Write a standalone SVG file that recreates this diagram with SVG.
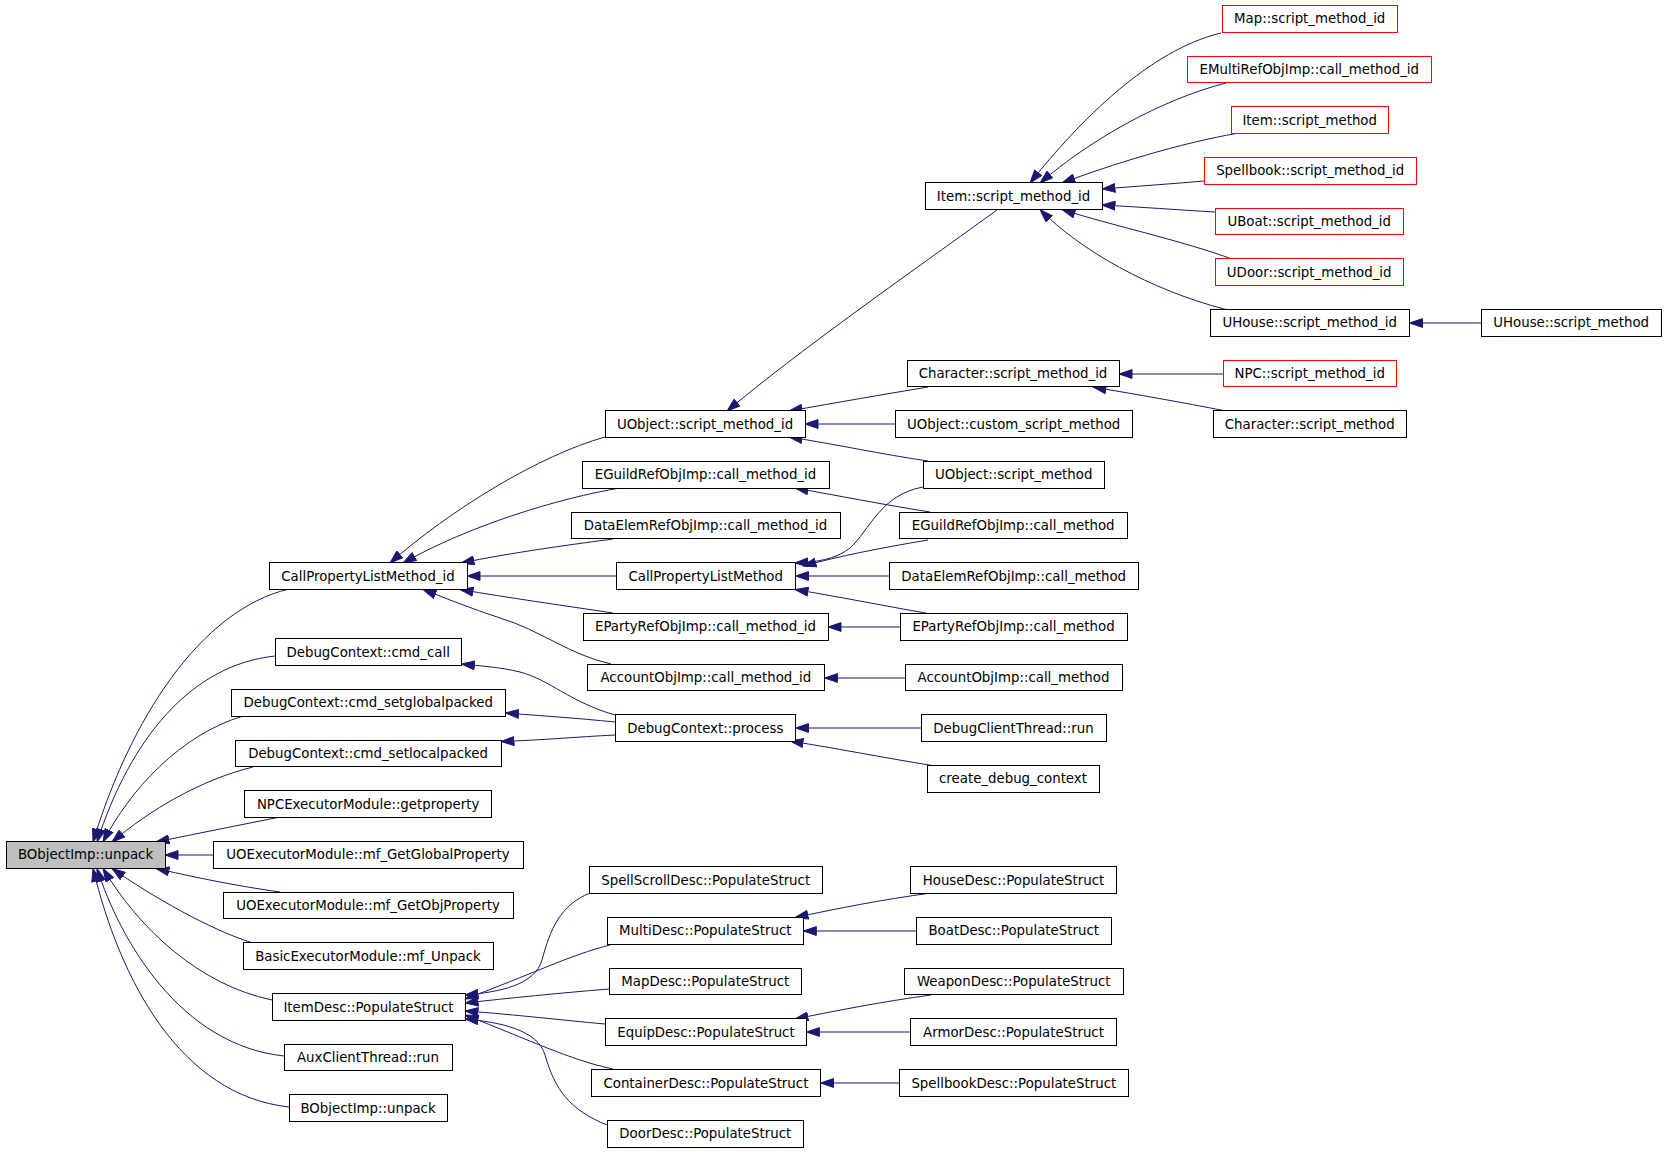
<svg xmlns="http://www.w3.org/2000/svg" width="1667" height="1152" viewBox="0 0 1667 1152">
<style>
.n rect{fill:#fff;stroke:#000;stroke-width:1;shape-rendering:crispEdges}
.r rect{stroke:#f00}
.g rect{fill:#bfbfbf}
text{font-family:"DejaVu Sans","Liberation Sans",sans-serif;font-size:13.33px;text-anchor:middle;fill:#000}
.e path{fill:none;stroke:#191970;stroke-width:1;marker-end:url(#a)}
</style>
<defs>
<marker id="a" markerUnits="userSpaceOnUse" markerWidth="14" markerHeight="10" viewBox="0 0 14 10" refX="13.5" refY="5" orient="auto">
<path d="M0.5,0.6 L13.5,5 L0.5,9.4 Z" fill="#191970" stroke="#191970" stroke-width="1"/>
</marker>
</defs>
<rect width="1667" height="1152" fill="#fff"/>
<g class="e" id="edges">
<path d="M289,589 C200,610 130,720 93,842"/>
<path d="M275,656 C190,665 130,740 97,842"/>
<path d="M243,716 C180,735 130,790 103,842"/>
<path d="M253,767 C200,780 150,810 112,842"/>
<path d="M280,817 C240,825 200,833 156,842"/>
<path d="M213,855 L165,855"/>
<path d="M280,892 C230,885 190,876 156,868.5"/>
<path d="M253,943 C210,930 150,895 112,868.5"/>
<path d="M272,1000 C200,985 140,930 103,868.5"/>
<path d="M284,1056 C180,1045 120,940 97,868.5"/>
<path d="M289,1107 C180,1095 120,980 93,868.5"/>
<path d="M605,437 C540,455 450,510 390,563"/>
<path d="M620,488 C560,498 470,525 403,563"/>
<path d="M613,539 C560,546 510,553 461,563"/>
<path d="M616,576 L467,576"/>
<path d="M613,613 C560,605 510,598 460,589.5"/>
<path d="M611,664 C570,655 540,630 500,618 C470,608 445,598 423,589.5"/>
<path d="M615,715 C570,702 550,680 520,672 C500,667 480,666 461.5,664"/>
<path d="M615,722 C575,718 545,716 505.5,713"/>
<path d="M615,735 C575,737 545,740 501,741.5"/>
<path d="M921,728 L795.5,728"/>
<path d="M932,765.5 C880,757 840,749 790,741"/>
<path d="M997,210 C900,280 800,350 727,411"/>
<path d="M928,387 C880,395 840,402 789,411"/>
<path d="M895,424 L805,424"/>
<path d="M928,461 C880,454 840,445 789,437"/>
<path d="M930,512 C880,504 840,496 795,488"/>
<path d="M923,487 C880,495 870,530 850,548 C835,560 815,562 795,563"/>
<path d="M928,540 C880,548 840,556 803,566"/>
<path d="M889,576 L795.5,576"/>
<path d="M928,613.5 C880,605 840,597 795,589.5"/>
<path d="M900,627 L828,627"/>
<path d="M905,678 L824.6,678"/>
<path d="M1221,33 C1150,50 1080,120 1030,183"/>
<path d="M1226,83 C1160,100 1090,140 1040,183"/>
<path d="M1239,133 C1180,143 1110,165 1062,183"/>
<path d="M1204,181 C1170,184 1140,186 1102,189"/>
<path d="M1215,212 C1180,210 1140,207 1102,205"/>
<path d="M1232,259 C1180,240 1110,225 1062,209.5"/>
<path d="M1226,309.5 C1150,290 1080,250 1040,209.5"/>
<path d="M1481,323 L1409.5,323"/>
<path d="M1223,374 L1119,374"/>
<path d="M1226,411 C1180,402 1140,395 1093,387"/>
<path d="M590,893 C560,905 550,930 542,960 C535,985 500,992 465,995"/>
<path d="M610,945 C570,955 530,975 465,999"/>
<path d="M609,989 C560,993 510,998 465,1003"/>
<path d="M605,1024 C560,1020 520,1015 465,1011"/>
<path d="M613,1069 C570,1060 530,1040 465,1015"/>
<path d="M607,1125 C570,1110 555,1090 545,1055 C538,1030 500,1022 465,1019"/>
<path d="M931,893 C880,900 840,908 795,917.5"/>
<path d="M916,931 L803.3,931"/>
<path d="M931,995 C880,1002 840,1010 795,1019"/>
<path d="M911,1032 L806.4,1032"/>
<path d="M899,1083 L820.5,1083"/>
</g>
<g class="n g" id="n_root"><rect x="6" y="841.5" width="159" height="26.7"/><text x="85.5" y="859.4">BObjectImp::unpack</text></g>
<g class="n" id="n_cplm_id"><rect x="269" y="562.8" width="198" height="26.7"/><text x="368" y="580.7">CallPropertyListMethod_id</text></g>
<g class="n" id="n_cmd_call"><rect x="275" y="638.8" width="186.5" height="26.7"/><text x="368.2" y="656.7">DebugContext::cmd_call</text></g>
<g class="n" id="n_setglobal"><rect x="231" y="689.5" width="274.5" height="26.7"/><text x="368.2" y="707.4">DebugContext::cmd_setglobalpacked</text></g>
<g class="n" id="n_setlocal"><rect x="235" y="740.2" width="266" height="26.7"/><text x="368" y="758.1">DebugContext::cmd_setlocalpacked</text></g>
<g class="n" id="n_npcexec"><rect x="244.5" y="790.8" width="247.2" height="26.7"/><text x="368.1" y="808.7">NPCExecutorModule::getproperty</text></g>
<g class="n" id="n_uoglobal"><rect x="213" y="841.5" width="310" height="26.7"/><text x="368" y="859.4">UOExecutorModule::mf_GetGlobalProperty</text></g>
<g class="n" id="n_uoobj"><rect x="223" y="892.2" width="290" height="26.7"/><text x="368" y="910.1">UOExecutorModule::mf_GetObjProperty</text></g>
<g class="n" id="n_basic"><rect x="243" y="942.9" width="250" height="26.7"/><text x="368" y="960.8">BasicExecutorModule::mf_Unpack</text></g>
<g class="n" id="n_itemdesc"><rect x="272" y="993.6" width="193" height="26.7"/><text x="368.5" y="1011.5">ItemDesc::PopulateStruct</text></g>
<g class="n" id="n_aux"><rect x="284" y="1044.2" width="168" height="26.7"/><text x="368" y="1062.1">AuxClientThread::run</text></g>
<g class="n" id="n_bobj2"><rect x="289" y="1094.9" width="158" height="26.7"/><text x="368" y="1112.8">BObjectImp::unpack</text></g>
<g class="n" id="n_uobj_id"><rect x="605" y="410.7" width="200" height="26.7"/><text x="705" y="428.6">UObject::script_method_id</text></g>
<g class="n" id="n_eguild_id"><rect x="582" y="461.4" width="247" height="26.7"/><text x="705.5" y="479.3">EGuildRefObjImp::call_method_id</text></g>
<g class="n" id="n_dataelem_id"><rect x="571" y="512.1" width="269" height="26.7"/><text x="705.5" y="530">DataElemRefObjImp::call_method_id</text></g>
<g class="n" id="n_cplm"><rect x="616" y="562.8" width="179.5" height="26.7"/><text x="705.7" y="580.7">CallPropertyListMethod</text></g>
<g class="n" id="n_eparty_id"><rect x="583" y="613.5" width="245" height="26.7"/><text x="705.5" y="631.4">EPartyRefObjImp::call_method_id</text></g>
<g class="n" id="n_account_id"><rect x="587" y="664.1" width="237.6" height="26.7"/><text x="705.8" y="682">AccountObjImp::call_method_id</text></g>
<g class="n" id="n_process"><rect x="615" y="714.8" width="180.6" height="26.7"/><text x="705.3" y="732.7">DebugContext::process</text></g>
<g class="n" id="n_spellscroll"><rect x="589.4" y="866.9" width="232.6" height="26.7"/><text x="705.7" y="884.8">SpellScrollDesc::PopulateStruct</text></g>
<g class="n" id="n_multi"><rect x="607.4" y="917.5" width="195.9" height="26.7"/><text x="705.3" y="935.4">MultiDesc::PopulateStruct</text></g>
<g class="n" id="n_mapdesc"><rect x="609.3" y="968.2" width="192.1" height="26.7"/><text x="705.3" y="986.1">MapDesc::PopulateStruct</text></g>
<g class="n" id="n_equip"><rect x="605.5" y="1018.9" width="200.9" height="26.7"/><text x="706" y="1036.8">EquipDesc::PopulateStruct</text></g>
<g class="n" id="n_container"><rect x="591.3" y="1069.6" width="229.2" height="26.7"/><text x="705.9" y="1087.5">ContainerDesc::PopulateStruct</text></g>
<g class="n" id="n_door"><rect x="607.4" y="1120.3" width="195.9" height="26.7"/><text x="705.3" y="1138.2">DoorDesc::PopulateStruct</text></g>
<g class="n" id="n_item_id"><rect x="925" y="182.7" width="177" height="26.7"/><text x="1013.5" y="200.6">Item::script_method_id</text></g>
<g class="n" id="n_char_id"><rect x="907" y="360.1" width="212" height="26.7"/><text x="1013" y="378">Character::script_method_id</text></g>
<g class="n" id="n_custom"><rect x="895" y="410.7" width="237.5" height="26.7"/><text x="1013.7" y="428.6">UObject::custom_script_method</text></g>
<g class="n" id="n_uobj_sm"><rect x="923" y="461.4" width="181.5" height="26.7"/><text x="1013.7" y="479.3">UObject::script_method</text></g>
<g class="n" id="n_eguild_cm"><rect x="899" y="512.1" width="228.4" height="26.7"/><text x="1013.2" y="530">EGuildRefObjImp::call_method</text></g>
<g class="n" id="n_dataelem_cm"><rect x="889" y="562.8" width="249.5" height="26.7"/><text x="1013.7" y="580.7">DataElemRefObjImp::call_method</text></g>
<g class="n" id="n_eparty_cm"><rect x="900" y="613.5" width="227" height="26.7"/><text x="1013.5" y="631.4">EPartyRefObjImp::call_method</text></g>
<g class="n" id="n_account_cm"><rect x="905" y="664.1" width="217" height="26.7"/><text x="1013.5" y="682">AccountObjImp::call_method</text></g>
<g class="n" id="n_dbgclient"><rect x="921" y="714.8" width="185" height="26.7"/><text x="1013.5" y="732.7">DebugClientThread::run</text></g>
<g class="n" id="n_create_dbg"><rect x="927" y="765.5" width="172" height="26.7"/><text x="1013" y="783.4">create_debug_context</text></g>
<g class="n" id="n_house"><rect x="910.8" y="866.9" width="205.5" height="26.7"/><text x="1013.5" y="884.8">HouseDesc::PopulateStruct</text></g>
<g class="n" id="n_boat"><rect x="916" y="917.5" width="195.4" height="26.7"/><text x="1013.7" y="935.4">BoatDesc::PopulateStruct</text></g>
<g class="n" id="n_weapon"><rect x="904.3" y="968.2" width="218.9" height="26.7"/><text x="1013.7" y="986.1">WeaponDesc::PopulateStruct</text></g>
<g class="n" id="n_armor"><rect x="910.8" y="1018.9" width="205.5" height="26.7"/><text x="1013.5" y="1036.8">ArmorDesc::PopulateStruct</text></g>
<g class="n" id="n_spellbookdesc"><rect x="899" y="1069.6" width="229.6" height="26.7"/><text x="1013.8" y="1087.5">SpellbookDesc::PopulateStruct</text></g>
<g class="n r" id="n_map_sm"><rect x="1222" y="5.3" width="175.5" height="26.7"/><text x="1309.7" y="23.2">Map::script_method_id</text></g>
<g class="n r" id="n_emulti"><rect x="1187" y="56" width="244.6" height="26.7"/><text x="1309.3" y="73.9">EMultiRefObjImp::call_method_id</text></g>
<g class="n r" id="n_item_sm"><rect x="1231" y="106.7" width="157.4" height="26.7"/><text x="1309.7" y="124.6">Item::script_method</text></g>
<g class="n r" id="n_spellbook_sm"><rect x="1204" y="157.3" width="212.5" height="26.7"/><text x="1310.2" y="175.2">Spellbook::script_method_id</text></g>
<g class="n r" id="n_uboat"><rect x="1215" y="208" width="188.5" height="26.7"/><text x="1309.2" y="225.9">UBoat::script_method_id</text></g>
<g class="n r" id="n_udoor"><rect x="1215" y="258.7" width="188.5" height="26.7"/><text x="1309.2" y="276.6">UDoor::script_method_id</text></g>
<g class="n" id="n_uhouse_id"><rect x="1210" y="309.4" width="199.5" height="26.7"/><text x="1309.7" y="327.3">UHouse::script_method_id</text></g>
<g class="n r" id="n_npc_id"><rect x="1223" y="360.1" width="173.5" height="26.7"/><text x="1309.7" y="378">NPC::script_method_id</text></g>
<g class="n" id="n_char_sm"><rect x="1213" y="410.7" width="193.5" height="26.7"/><text x="1309.7" y="428.6">Character::script_method</text></g>
<g class="n" id="n_uhouse_sm"><rect x="1481" y="309.4" width="180.5" height="26.7"/><text x="1571.2" y="327.3">UHouse::script_method</text></g>
</svg>
